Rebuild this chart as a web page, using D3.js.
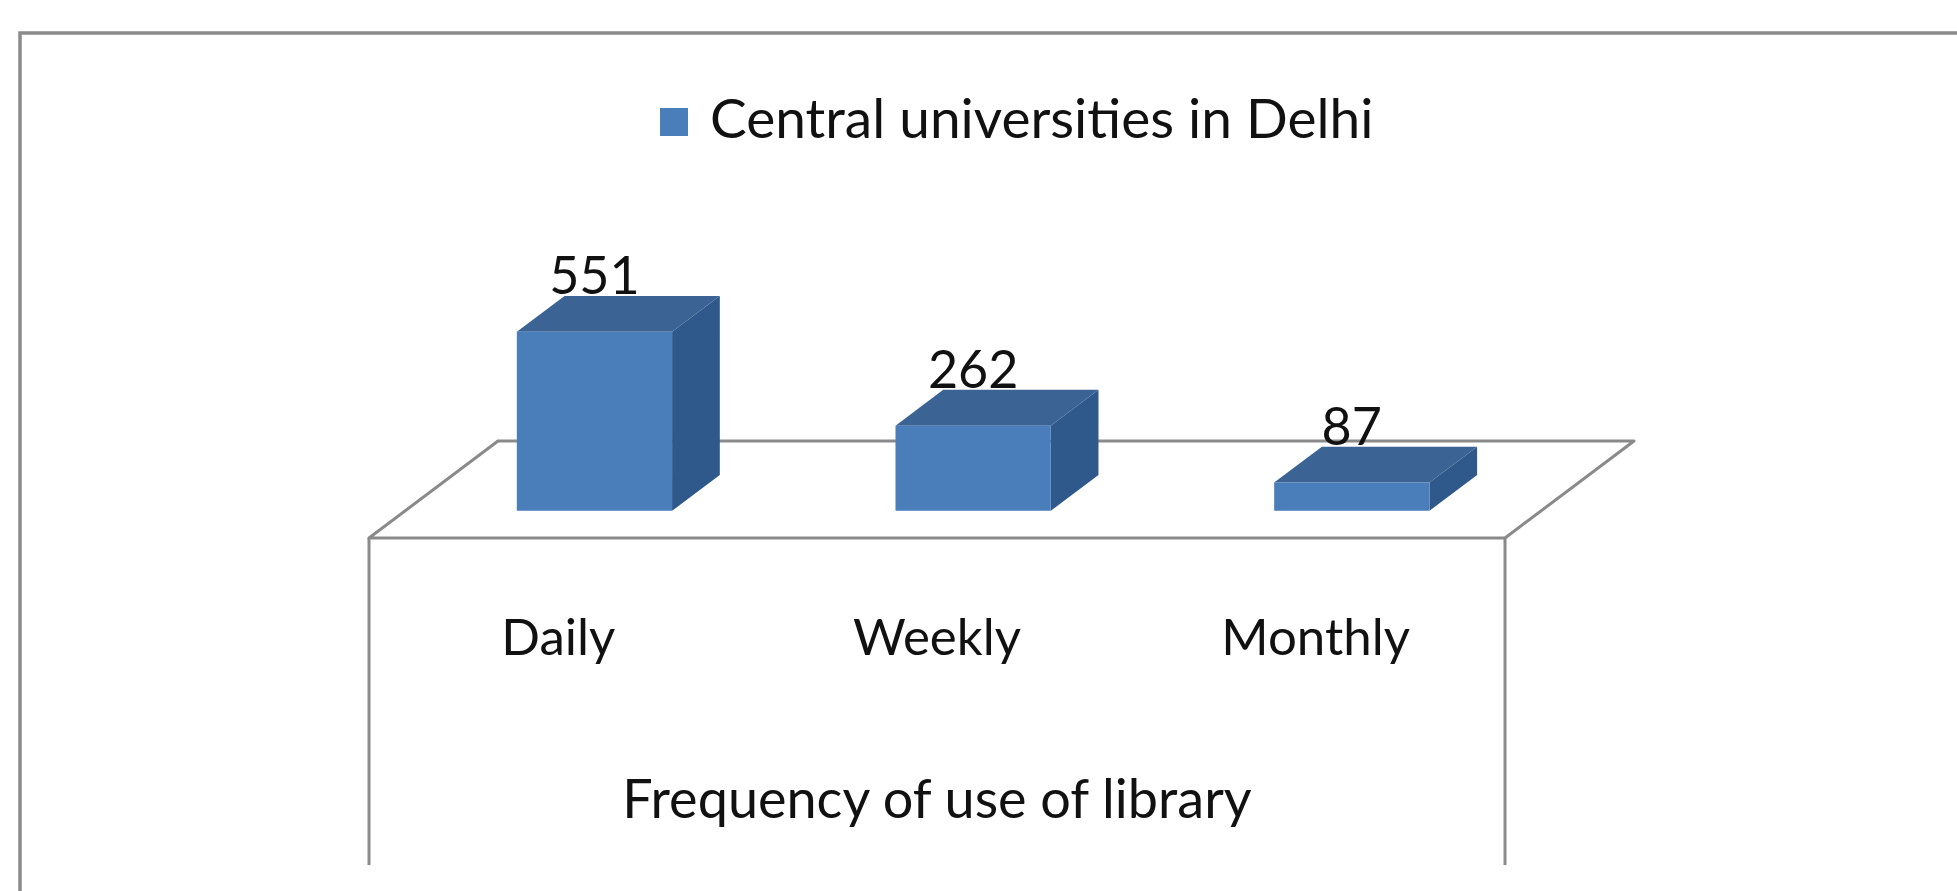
<!DOCTYPE html>
<html>
<head>
<meta charset="utf-8">
<script src="https://cdn.jsdelivr.net/npm/d3@7"></script>
<style>
  body{margin:0;background:#fff;}
  text{font-family:Lato, "Noto Sans", sans-serif;fill:#111;}
</style>
</head>
<body>
<div class="canvas"></div>
<script>
// data
const categories=['Daily','Weekly','Monthly'];
const values=[551,262,87];
const seriesName='Central universities in Delhi';
const axisTitle='Frequency of use of library';

const dims={width:1957,height:891};
// floor front-left corner, floor width and the oblique depth vector
const floor={x:369,y:538,width:1136,dx:129,dy:-97};
// bars sit between these fractions of the floor depth
const barDepth={front:0.28,back:0.65};

const colors={front:'#4a7ebb',top:'#3b6495',side:'#30598b',line:'#8a8a8a'};

const svg=d3.select('.canvas')
.append('svg')
.attr('width',dims.width)
.attr('height',dims.height);

// outer chart frame (runs off the right and bottom of the picture)
svg.append('rect')
.attr('x',20).attr('y',33)
.attr('width',2200).attr('height',1200)
.attr('fill','none')
.attr('stroke',colors.line)
.attr('stroke-width',3.5);

const x=d3.scaleBand()
.domain(categories)
.range([0,floor.width])
.paddingInner(0.59)
.paddingOuter(0.295);

const y=d3.scaleLinear()
.domain([0,600])
.range([0,195]);

// project (front x, height, depth fraction) to screen
const pt=(fx,h,t)=>[floor.x+fx+t*floor.dx, floor.y-y(h)+t*floor.dy];

const graph=svg.append('g');

// floor
const floorPts=[pt(0,0,0),pt(floor.width,0,0),pt(floor.width,0,1),pt(0,0,1)];
graph.append('polygon')
.attr('points',floorPts.map(p=>p.join(',')).join(' '))
.attr('fill','#fff')
.attr('stroke',colors.line)
.attr('stroke-width',3)
.attr('stroke-linejoin','round');

// front wall verticals
[0,floor.width].forEach(fx=>{
  graph.append('line')
  .attr('x1',floor.x+fx).attr('x2',floor.x+fx)
  .attr('y1',floor.y).attr('y2',865)
  .attr('stroke',colors.line)
  .attr('stroke-width',3);
});

const data=categories.map((c,i)=>({cat:c,value:values[i]}));
const tf=barDepth.front, tb=barDepth.back;

const bars=graph.selectAll('g.bar')
.data(data)
.enter().append('g')
.attr('class','bar');

const poly=(sel,fn,fill)=>sel.append('polygon')
.attr('points',d=>fn(d).map(p=>p.join(',')).join(' '))
.attr('fill',fill);

// side face
poly(bars,d=>{
  const r=x(d.cat)+x.bandwidth();
  return [pt(r,0,tf),pt(r,0,tb),pt(r,d.value,tb),pt(r,d.value,tf)];
},colors.side);

// top face
poly(bars,d=>{
  const l=x(d.cat), r=l+x.bandwidth();
  return [pt(l,d.value,tf),pt(r,d.value,tf),pt(r,d.value,tb),pt(l,d.value,tb)];
},colors.top);

// front face
poly(bars,d=>{
  const l=x(d.cat), r=l+x.bandwidth();
  return [pt(l,0,tf),pt(r,0,tf),pt(r,d.value,tf),pt(l,d.value,tf)];
},colors.front);

// value labels
bars.append('text')
.attr('x',d=>pt(x(d.cat)+x.bandwidth()/2,d.value,tf)[0])
.attr('y',d=>pt(0,d.value,tb)[1]-2)
.attr('text-anchor','middle')
.style('font-size','52px')
.text(d=>d.value);

// category axis along the front edge of the floor
const xCat=x.copy().paddingInner(0).paddingOuter(0);
const axis=d3.axisBottom(xCat).tickSize(0);
const axisG=graph.append('g')
.attr('transform',`translate(${floor.x},${floor.y})`)
.call(axis);
axisG.select('.domain').remove();
axisG.selectAll('text')
.attr('y',117)
.attr('dy',0)
.style('font-size','51px')
.style('font-family','Lato, sans-serif')
.attr('fill','#111');

// axis title
graph.append('text')
.attr('x',floor.x+floor.width/2)
.attr('y',818)
.attr('text-anchor','middle')
.style('font-size','54px')
.text(axisTitle);

// legend
const legend=svg.append('g')
.attr('transform','translate(660,108)');
legend.append('rect')
.attr('width',28).attr('height',28)
.attr('fill',colors.front);
legend.append('text')
.attr('x',50).attr('y',30)
.style('font-size','55px')
.text(seriesName);
</script>
</body>
</html>
